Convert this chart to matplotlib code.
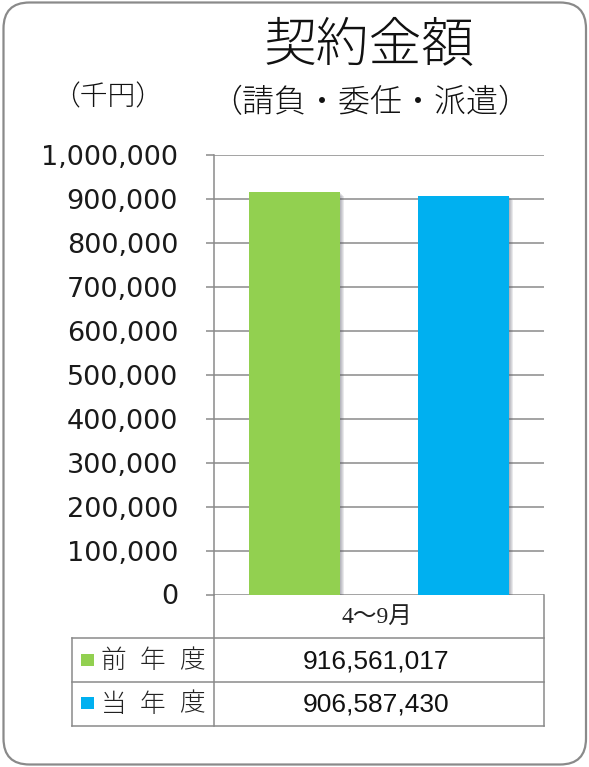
import matplotlib
matplotlib.use("Agg")
import matplotlib.pyplot as plt
import matplotlib.patheffects as pe
from matplotlib.patches import FancyBboxPatch, Rectangle
from matplotlib.lines import Line2D
from matplotlib.ticker import FuncFormatter, MultipleLocator

# ---- data ----
title = "契約金額"
subtitle = "（請負・委任・派遣）"
unit_label = "（千円）"
category = "4〜9月"
series_names = ["前年度", "当年度"]
series_values = [916561017, 906587430]
series_colors = ["#92D050", "#00B0F0"]
y_max = 1000000
y_step = 100000

CJK = ["Noto Sans CJK JP", "DejaVu Sans"]
W, H = 589, 767
fig = plt.figure(figsize=(W / 100, H / 100), dpi=100)
fig.patch.set_facecolor("white")

grey = "#8a8a8a"

# main axes (pixel layout)
ax_l, ax_r, ax_t, ax_b = 213.5, 544, 155, 594.5
ax = fig.add_axes([ax_l / W, 1 - ax_b / H, (ax_r - ax_l) / W, (ax_b - ax_t) / H])
ax.set_xlim(-0.5, 0.5)
ax.set_ylim(0, y_max)
ax.yaxis.set_major_locator(MultipleLocator(y_step))
ax.yaxis.set_major_formatter(FuncFormatter(lambda v, p: f"{int(v):,}"))
ax.grid(axis="y", color=grey, linewidth=1.1)
ax.set_axisbelow(True)
for s in ["top", "right", "bottom"]:
    ax.spines[s].set_visible(False)
ax.spines["left"].set_color(grey)
ax.spines["left"].set_linewidth(1.1)
ax.tick_params(axis="y", length=5.5, width=1.1, color=grey, pad=20,
               labelsize=19.5, labelcolor="#1a1a1a")
ax.tick_params(axis="x", length=0, labelbottom=False)
for lab in ax.get_yticklabels():
    lab.set_fontfamily("DejaVu Sans")

offsets = [-0.256, 0.256]
shadow = [pe.SimplePatchShadow(offset=(o, -o), shadow_rgbFace="#505060", alpha=0.12)
          for o in (0.8, 1.6, 2.4, 3.2)] + [pe.Normal()]
for off, v, c in zip(offsets, series_values, series_colors):
    ax.bar(off, v / 1000, width=0.276, color=c, zorder=3, path_effects=shadow)

# overlay axes in pixel coordinates
ov = fig.add_axes([0, 0, 1, 1], zorder=5)
ov.set_xlim(0, W)
ov.set_ylim(H, 0)
ov.axis("off")
ov.patch.set_alpha(0)

# rounded frame
ov.add_patch(FancyBboxPatch((3.5, 2.5), 582.5, 762, boxstyle="round,pad=0,rounding_size=26",
                            fill=False, edgecolor=grey, linewidth=1.6))

# titles
ov.text(369, 46, title, fontsize=38, family=CJK, fontweight="light",
        ha="center", va="center", color="#111111")
ov.text(370.5, 103, subtitle, fontsize=23, family=CJK, fontweight="light",
        ha="center", va="center", color="#111111")
ov.text(108, 97, unit_label, fontsize=20, family=CJK, fontweight="light",
        ha="center", va="center", color="#111111")

# data table
tl, tm, tr = 72, ax_l, ax_r
rows_y = [ax_b, 638, 682, 725.5]
lw = 1.1
def hline(y, x0, x1):
    ov.add_line(Line2D([x0, x1], [y, y], color=grey, linewidth=lw))
def vline(x, y0, y1):
    ov.add_line(Line2D([x, x], [y0, y1], color=grey, linewidth=lw))
for y in rows_y[1:]:
    hline(y, tl, tr)
vline(tl, rows_y[1], rows_y[3])
vline(tm, rows_y[0], rows_y[3])
vline(tr, rows_y[0], rows_y[3])

mid_x = (tm + tr) / 2
ov.text(mid_x - 2, (rows_y[0] + rows_y[1]) / 2 + 1, category, fontsize=17,
        family=["Liberation Serif", "Noto Sans CJK JP"], ha="center", va="center", color="#222222")

for i, (name, v, c) in enumerate(zip(series_names, series_values, series_colors)):
    yc = (rows_y[i + 1] + rows_y[i + 2]) / 2
    ov.add_patch(Rectangle((81, yc - 6.5), 13, 12, facecolor=c, edgecolor="none"))
    for j, ch in enumerate(name):
        ov.text(113.7 + 39.3 * j, yc + 0.5, ch, fontsize=18.5, family=CJK, fontweight="light",
                ha="center", va="center", color="#222222")
    ov.text(mid_x - 3, yc + 1, f"{v:,}", fontsize=19, family="Liberation Sans",
            ha="center", va="center", color="#111111")

fig.savefig("out.png", dpi=100)
